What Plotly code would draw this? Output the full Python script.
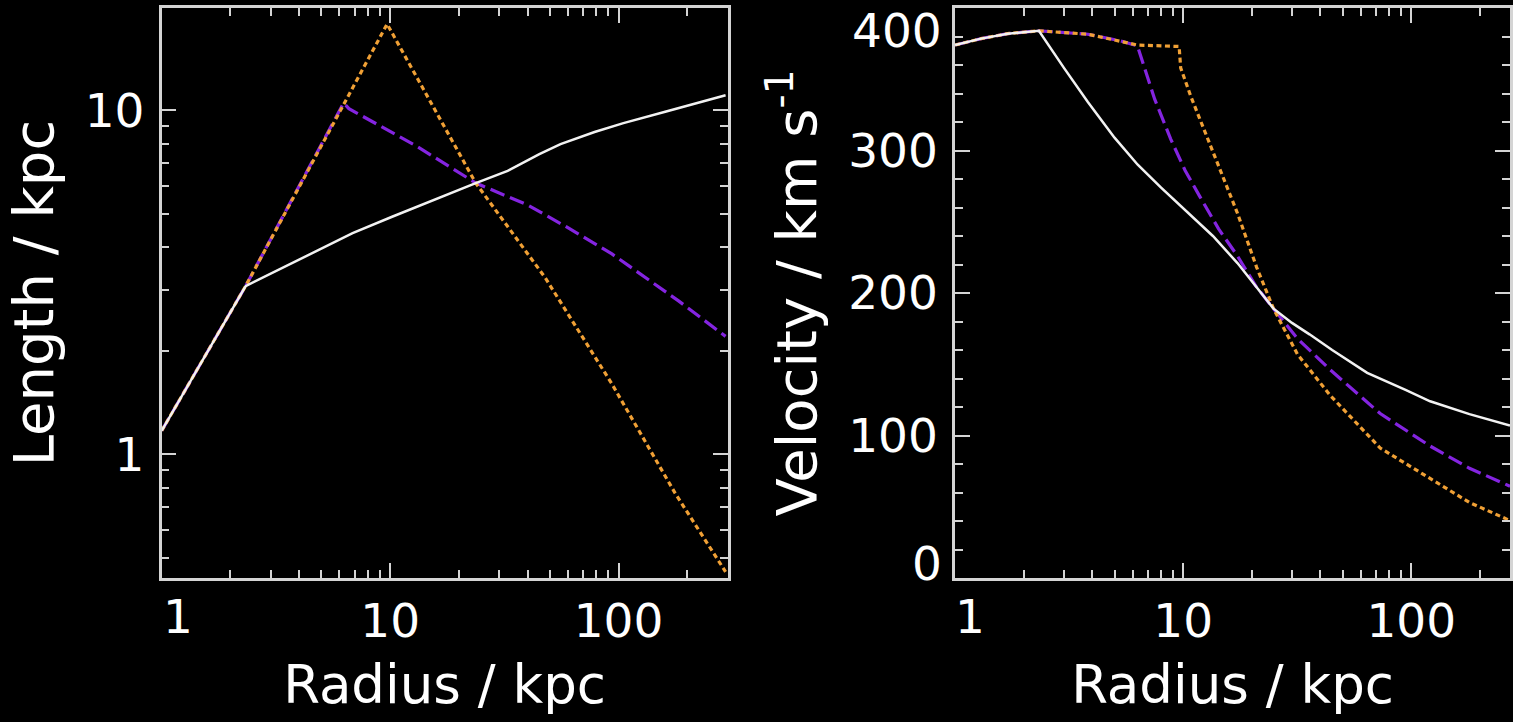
import plotly.graph_objects as go

# ---------------- data ----------------
# Left panel: Length vs radius (log-log)
r_len_white = [1, 2.33, 6.85, 10.2, 23.7, 32.7, 45, 55.7, 78.5, 105, 160, 294]
len_white = [1.17, 3.08, 4.39, 4.90, 6.14, 6.66, 7.45, 7.97, 8.64, 9.17, 9.9, 11.05]

r_len_purple = [1, 2.33, 6.26, 6.6, 12.9, 23.7, 40, 58.4, 93.5, 183, 294]
len_purple = [1.17, 3.08, 10.5, 10.1, 7.9, 6.14, 5.3, 4.6, 3.82, 2.79, 2.20]

r_len_orange = [1, 2.33, 9.7, 23.7, 47.7, 93.5, 177, 294]
len_orange = [1.17, 3.08, 17.8, 6.14, 3.26, 1.60, 0.769, 0.455]

# Right panel: Velocity vs radius (log x, linear y)
r_vel_white = [1, 1.3, 1.7, 2.33, 3.0, 3.82, 5.0, 6.32, 8.0, 10.1, 13.5, 17.3, 21.0, 24.9,
               30, 35.8, 45, 64.1, 94.4, 121, 180, 271]
vel_white = [374, 378.5, 382, 384, 358, 334, 309, 290, 274, 259, 240, 221, 204, 189,
             179, 171, 160, 144, 132, 124, 115, 107]

r_vel_purple = [1, 1.3, 1.7, 2.33, 3.82, 5.33, 6.3, 7.5, 8.82, 10.2, 11.8, 14.3, 17.3, 20.8,
                24.9, 31.7, 44.2, 73.1, 121, 180, 271]
vel_purple = [374, 378.5, 382, 384, 381.6, 376.9, 373.4, 336, 308, 286, 268, 245, 226, 205,
              189, 168, 146, 115.4, 92.6, 77, 64.4]

r_vel_orange = [1, 1.3, 1.7, 2.33, 3.82, 5.33, 6.3, 9.6, 9.75, 10.8, 11.9, 13.0, 15.0, 17.3,
                21.0, 24.9, 31.7, 44.2, 73.1, 121, 180, 271]
vel_orange = [374, 378.5, 382, 384, 381.6, 376.9, 374, 373, 358, 338, 321, 305, 280, 256,
              218, 189, 157, 128, 91.2, 69.8, 53, 40.3]

x_ticks = [10, 100]
x_edge_label = "1"
x_minor = [2, 3, 4, 5, 6, 7, 8, 9, 20, 30, 40, 50, 60, 70, 80, 90, 200, 300]
len_ticks = [1, 10]
len_minor = [0.5, 0.6, 0.7, 0.8, 0.9, 2, 3, 4, 5, 6, 7, 8, 9, 20]
vel_ticks = [100, 200, 300]
vel_edge_labels = [("400", 400), ("0", 0)]
vel_minor = [20, 40, 60, 80, 120, 140, 160, 180, 220, 240, 260, 280, 320, 340, 360, 380]

# ---------------- style ----------------
W, H = 1513, 722
FONT = "DejaVu Sans"
AX = "#d4d4d4"
WHITE = "#f2f2f2"
PURPLE = "#8424e0"
ORANGE = "#f0a035"
TICKFS = 47
XTITLEFS = 53
YTITLEFS = 56

ydom = [1 - 578 / H, 1 - 8 / H]
xdom1 = [162 / W, 729 / W]
xdom2 = [957 / W, 1.0]

fig = go.Figure()

def addl(x, y, color, dash, width, xa, ya):
    fig.add_trace(go.Scatter(x=x, y=y, mode="lines",
                             line=dict(color=color, dash=dash, width=width),
                             xaxis=xa, yaxis=ya, showlegend=False,
                             hoverinfo="skip"))

addl(r_len_purple, len_purple, PURPLE, "15px,6px", 3.2, "x", "y")
addl(r_len_orange, len_orange, ORANGE, "5px,3.5px", 3.2, "x", "y")
addl(r_len_white, len_white, WHITE, "solid", 2.5, "x", "y")

addl(r_vel_purple, vel_purple, PURPLE, "15px,6px", 3.2, "x2", "y2")
addl(r_vel_orange, vel_orange, ORANGE, "5px,3.5px", 3.2, "x2", "y2")
addl(r_vel_white, vel_white, WHITE, "solid", 2.5, "x2", "y2")

common = dict(showline=True, linecolor=AX, linewidth=2.5, mirror="ticks",
              ticks="inside", ticklen=15, tickwidth=2, tickcolor=AX,
              showgrid=False, zeroline=False,
              tickfont=dict(family=FONT, size=TICKFS, color="white"))

minor = lambda vals: dict(tickvals=vals, ticks="inside", ticklen=8,
                          tickwidth=1.5, tickcolor=AX, showgrid=False)

xt = dict(family=FONT, size=XTITLEFS, color="white")
yt = dict(family=FONT, size=YTITLEFS, color="white")

fig.update_layout(
    width=W, height=H,
    margin=dict(l=0, r=0, t=0, b=0),
    paper_bgcolor="black", plot_bgcolor="black",
    xaxis=dict(domain=xdom1, type="log", range=[0, 2.477], anchor="y",
               tickvals=x_ticks, ticktext=[str(v) for v in x_ticks],
               minor=minor(x_minor), ticklabelstandoff=0,
               title=dict(text="Radius / kpc", font=xt, standoff=19),
               **common),
    yaxis=dict(domain=ydom, type="log", range=[-0.36, 1.297], anchor="x",
               tickvals=len_ticks, ticktext=[str(v) for v in len_ticks],
               minor=minor(len_minor), ticklabelstandoff=5,
               title=dict(text="Length / kpc", font=yt, standoff=14),
               **common),
    xaxis2=dict(domain=xdom2, type="log", range=[0, 2.433], anchor="y2",
                tickvals=x_ticks, ticktext=[str(v) for v in x_ticks],
                minor=minor(x_minor), ticklabelstandoff=0,
                title=dict(text="Radius / kpc", font=xt, standoff=19),
                **common),
    yaxis2=dict(domain=ydom, range=[0, 400], anchor="x2",
                tickvals=vel_ticks, ticktext=[str(v) for v in vel_ticks],
                minor=minor(vel_minor), ticklabelstandoff=5,
                title=dict(text="Velocity / km s<sup>-1</sup>", font=yt, standoff=14),
                **common),
)

# edge tick labels nudged inward as in the original
lab = dict(showarrow=False, font=dict(family=FONT, size=TICKFS, color="white"))
fig.add_annotation(x=0, y=ydom[0], xref="x", yref="paper", text=x_edge_label,
                   xanchor="center", yanchor="top", xshift=16, yshift=-9, **lab)
fig.add_annotation(x=0, y=ydom[0], xref="x2", yref="paper", text=x_edge_label,
                   xanchor="center", yanchor="top", xshift=15, yshift=-9, **lab)
for (txt, val), ys in zip(vel_edge_labels, [-22, 15]):
    fig.add_annotation(x=xdom2[0], y=val, xref="paper", yref="y2", text=txt,
                       xanchor="right", yanchor="middle", xshift=-11, yshift=ys, **lab)

fig.write_html("out.html")
